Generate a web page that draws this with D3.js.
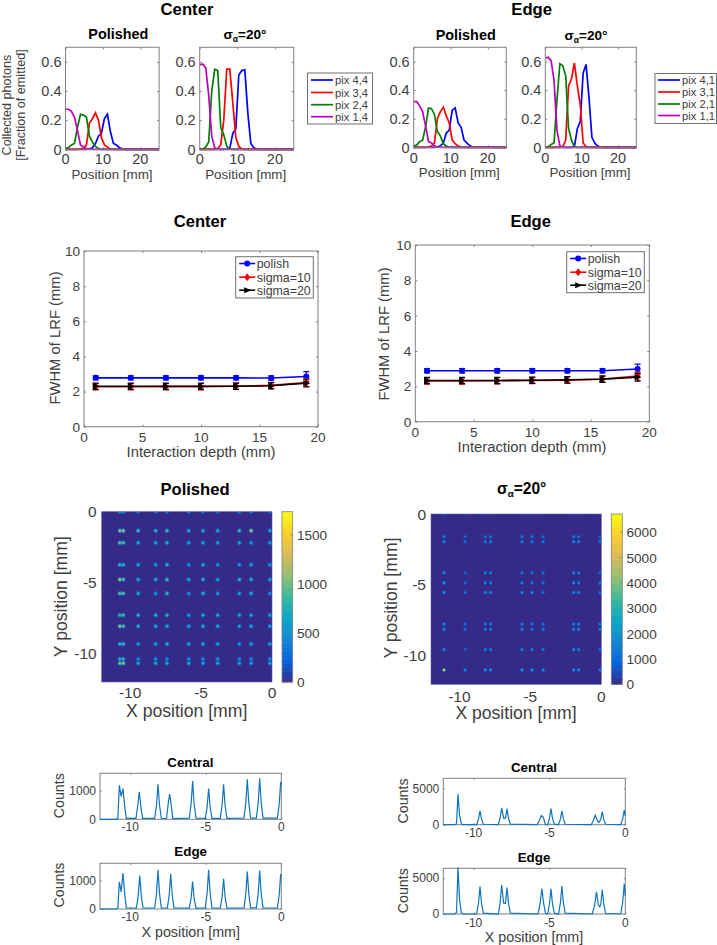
<!DOCTYPE html>
<html>
<head>
<meta charset="utf-8">
<script src="https://cdn.jsdelivr.net/npm/d3@7"></script>
<style>
  html, body { margin: 0; padding: 0; background: #fff; }
  text { font-family: "Liberation Sans", Arial, sans-serif; fill: #404040; }
  .ttl { font-weight: bold; fill: #000; }
</style>
</head>
<body>
<div id="chart"></div>
<script>
// ---- photon collection curves (position in mm, fraction of emitted)
var positions = [0, 0.8, 1.6, 2.4, 3.2, 4, 4.8, 5.6, 6.4, 7.2, 8, 8.8, 9.6, 10.4, 11.2, 12, 12.8, 13.6, 14.4, 15.2, 16, 25];

var centerPolished14 = [.275, .275, .26, .22, .13, .03, .015, .005, 0, 0, 0, 0, 0, 0, 0, 0, 0, 0, 0, 0, 0, 0];
var centerPolished24 = [.005, .012, .03, .04, .15, .24, .235, .22, .09, .05, .02, .005, 0, 0, 0, 0, 0, 0, 0, 0, 0, 0];
var centerPolished34 = [0, 0, 0, 0, 0, .002, .008, .03, .18, .21, .25, .2, .08, .03, .015, .003, 0, 0, 0, 0, 0, 0];
var centerPolished44 = [0, 0, 0, 0, 0, 0, 0, 0, .003, .01, .04, .09, .11, .21, .24, .12, .04, .03, .01, .003, 0, 0];

var centerRough14 = [.58, .585, .56, .37, .09, .01, .002, 0, 0, 0, 0, 0, 0, 0, 0, 0, 0, 0, 0, 0, 0, 0];
var centerRough24 = [0, .002, .015, .05, .4, .55, .54, .15, .1, .02, .002, 0, 0, 0, 0, 0, 0, 0, 0, 0, 0, 0];
var centerRough34 = [0, 0, 0, 0, 0, 0, .005, .03, .2, .55, .55, .32, .08, .02, .003, 0, 0, 0, 0, 0, 0, 0];
var centerRough44 = [0, 0, 0, 0, 0, 0, 0, 0, 0, .002, .005, .11, .14, .51, .54, .545, .25, .04, .01, .002, 0, 0];

var edgePolished11 = [.32, .32, .29, .25, .15, .04, .03, .01, .002, 0, 0, 0, 0, 0, 0, 0, 0, 0, 0, 0, 0, 0];
var edgePolished21 = [.01, .015, .04, .05, .14, .275, .27, .23, .11, .08, .025, .008, .002, 0, 0, 0, 0, 0, 0, 0, 0, 0];
var edgePolished31 = [0, 0, 0, 0, 0, .002, .008, .03, .2, .25, .28, .22, .17, .05, .025, .008, .002, 0, 0, 0, 0, 0];
var edgePolished41 = [0, 0, 0, 0, 0, 0, 0, 0, .002, .01, .03, .1, .12, .26, .275, .17, .14, .05, .03, .01, .002, 0];

var edgeRough11 = [.625, .63, .605, .47, .12, .01, .002, 0, 0, 0, 0, 0, 0, 0, 0, 0, 0, 0, 0, 0, 0, 0];
var edgeRough21 = [0, .003, .02, .03, .33, .585, .57, .5, .13, .05, .003, 0, 0, 0, 0, 0, 0, 0, 0, 0, 0, 0];
var edgeRough31 = [0, 0, 0, 0, 0, 0, .003, .05, .43, .48, .59, .43, .3, .03, .005, 0, 0, 0, 0, 0, 0, 0];
var edgeRough41 = [0, 0, 0, 0, 0, 0, 0, 0, 0, 0, .005, .13, .18, .52, .58, .35, .07, .03, .008, .002, 0, 0];

var pixColors = ['#0000ff', '#ff0000', '#007f00', '#bf00bf'];
var centerPixLabels = ['pix 4,4', 'pix 3,4', 'pix 2,4', 'pix 1,4'];
var edgePixLabels = ['pix 4,1', 'pix 3,1', 'pix 2,1', 'pix 1,1'];

// ---- FWHM vs depth
var depths = [1, 4, 7, 10, 13, 16, 19];
var centerPolish = [2.78, 2.78, 2.78, 2.78, 2.78, 2.77, 2.86];
var centerSigma10 = [2.27, 2.27, 2.28, 2.28, 2.3, 2.35, 2.52];
var centerSigma20 = [2.3, 2.3, 2.3, 2.3, 2.3, 2.33, 2.48];
var edgePolish = [2.88, 2.88, 2.88, 2.88, 2.88, 2.88, 2.98];
var edgeSigma10 = [2.3, 2.3, 2.32, 2.33, 2.35, 2.42, 2.58];
var edgeSigma20 = [2.33, 2.33, 2.33, 2.35, 2.37, 2.4, 2.52];
var polishErr = [.12, .12, .12, .12, .12, .12, .28];
var sigmaErr = [.18, .18, .18, .18, .18, .18, .22];
var fwhmLabels = ['polish', 'sigma=10', 'sigma=20'];
var fwhmColors = ['#0000ff', '#ff0000', '#000000'];

// ---- flood maps, spot positions and peak counts
var polishedCols = [-10.72, -10.48, -9.43, -8.2, -7.4, -5.87, -4.86, -3.83, -2.3, -1.47, -0.15];
var polishedRows = [0, -1.34, -2.19, -3.74, -4.78, -5.76, -7.29, -8.07, -9.32, -10.38, -10.68];
var polishedCounts = [
  [700, 700, 500, 500, 500, 500, 500, 500, 500, 500, 400],
  [1300, 1350, 1000, 950, 1000, 800, 900, 850, 1000, 1400, 800],
  [1200, 1100, 800, 800, 850, 750, 800, 750, 800, 750, 650],
  [1000, 900, 800, 700, 950, 650, 900, 650, 700, 800, 700],
  [1400, 1150, 850, 900, 1000, 800, 900, 800, 900, 900, 800],
  [1150, 1100, 850, 700, 950, 650, 900, 700, 750, 850, 600],
  [1000, 1050, 900, 900, 950, 750, 850, 850, 800, 800, 800],
  [1400, 1100, 900, 850, 850, 800, 900, 850, 800, 800, 750],
  [1000, 1000, 750, 800, 900, 800, 850, 800, 750, 800, 800],
  [900, 950, 600, 600, 600, 600, 550, 650, 550, 600, 650],
  [1250, 1350, 850, 850, 850, 850, 800, 800, 800, 750, 800]
];

var roughCols = [-11.08, -9.6, -8.17, -7.8, -5.59, -4.89, -4.1, -1.95, -1.6, -0.1];
var roughRows = [0, -1.6, -1.95, -4.14, -4.85, -5.53, -7.76, -8.12, -9.55, -10.99];
var roughCounts = [
  [1000, 600, 700, 700, 600, 600, 600, 700, 700, 500],
  [2000, 1400, 1700, 1700, 1700, 1600, 1500, 1800, 1700, 1300],
  [2200, 1300, 1800, 1800, 2000, 1700, 1700, 2100, 2000, 1500],
  [2400, 1300, 1800, 1900, 1900, 1700, 1500, 2100, 2000, 1300],
  [2800, 1500, 2000, 2000, 2100, 1800, 1700, 2300, 2100, 1500],
  [2800, 1800, 2100, 2100, 2300, 2100, 1800, 2200, 2200, 1500],
  [2600, 1500, 1900, 1900, 2000, 1800, 1800, 2300, 2300, 1700],
  [2400, 1500, 1800, 1800, 2000, 1800, 1800, 2200, 2200, 1600],
  [2400, 1400, 2000, 2000, 2200, 1900, 1800, 2200, 2200, 1400],
  [6500, 2200, 2600, 2700, 2800, 2900, 2400, 2700, 2600, 1800]
];
var polishedBarTicks = [0, 500, 1000, 1500];
var roughBarTicks = [0, 1000, 2000, 3000, 4000, 5000, 6000];

// MATLAB parula stops
var parulaStops = ['#352a87', '#0363e1', '#1485d4', '#06a7c6', '#38b99e', '#92bf73', '#d9ba56', '#fcce2e', '#f9fb0e'];

// ---- line profiles through the flood maps [x mm, counts]
var polishedCentral = [[-12,0],[-10.94,0],[-10.82,35],[-10.72,1180],[-10.6,800],[-10.48,1070],[-10.36,430],[-10.26,30],[-9.62,30],[-9.5,480],[-9.4,950],[-9.28,380],[-9.18,30],[-8.38,35],[-8.26,490],[-8.16,1220],[-8.06,490],[-7.94,35],[-7.6,25],[-7.48,560],[-7.39,880],[-7.3,560],[-7.18,25],[-6.09,40],[-5.97,530],[-5.87,1330],[-5.77,530],[-5.65,40],[-5.03,30],[-4.91,430],[-4.81,1070],[-4.71,430],[-4.59,30],[-4.04,35],[-3.92,490],[-3.82,1220],[-3.72,490],[-3.6,35],[-2.47,40],[-2.35,560],[-2.25,1390],[-2.15,560],[-2.03,40],[-1.65,40],[-1.53,570],[-1.43,1430],[-1.33,570],[-1.21,40],[-0.26,40],[-0.14,520],[-0.04,1300],[0,1200]];
var polishedEdge = [[-12,0],[-10.94,0],[-10.82,30],[-10.72,950],[-10.6,600],[-10.48,1260],[-10.36,500],[-10.26,35],[-9.59,35],[-9.47,470],[-9.37,1170],[-9.27,470],[-9.15,35],[-8.38,40],[-8.26,540],[-8.16,1360],[-8.06,540],[-7.94,40],[-7.54,35],[-7.42,490],[-7.32,1230],[-7.22,490],[-7.1,35],[-6.09,30],[-5.97,380],[-5.87,960],[-5.77,380],[-5.65,30],[-5.03,40],[-4.91,550],[-4.81,1370],[-4.71,550],[-4.59,40],[-4.04,30],[-3.92,420],[-3.82,1060],[-3.72,420],[-3.6,30],[-2.47,40],[-2.35,520],[-2.25,1310],[-2.15,520],[-2.03,40],[-1.65,40],[-1.53,540],[-1.43,1350],[-1.33,540],[-1.21,40],[-0.26,35],[-0.14,490],[-0.04,1220],[0,1150]];
var roughCentral = [[-12,0],[-11.25,0],[-11.13,130],[-11.03,4200],[-10.93,1300],[-10.81,130],[-10.7,0],[-9.8,0],[-9.68,760],[-9.58,1900],[-9.48,760],[-9.36,60],[-8.37,0],[-8.25,920],[-8.15,2300],[-8.02,900],[-7.9,880],[-7.8,2200],[-7.7,880],[-7.58,70],[-5.82,0],[-5.68,500],[-5.54,1250],[-5.4,1000],[-5.28,60],[-5.12,0],[-5,880],[-4.9,2200],[-4.8,880],[-4.68,70],[-4.4,0],[-4.28,760],[-4.18,1900],[-4.08,760],[-3.96,60],[-2.25,0],[-2.12,520],[-1.98,1300],[-1.84,520],[-1.74,300],[-1.62,720],[-1.52,1800],[-1.42,720],[-1.3,60],[-0.3,0],[-0.17,800],[-0.07,2000],[0,1200]];
var roughEdge = [[-12,0],[-11.25,0],[-11.13,200],[-11.03,6500],[-10.93,2000],[-10.81,200],[-10.7,0],[-9.8,0],[-9.68,1500],[-9.58,3850],[-9.48,1500],[-9.36,120],[-8.37,0],[-8.25,1600],[-8.15,4050],[-8.02,1500],[-7.9,1480],[-7.8,3700],[-7.7,1480],[-7.58,110],[-5.76,0],[-5.62,1400],[-5.5,3550],[-5.38,1400],[-5.26,110],[-5.12,0],[-5,1400],[-4.9,3500],[-4.8,1400],[-4.68,110],[-4.4,0],[-4.28,1560],[-4.18,3900],[-4.08,1560],[-3.96,120],[-2.18,0],[-2.02,1240],[-1.9,3100],[-1.78,1240],[-1.68,1000],[-1.62,1360],[-1.52,3400],[-1.42,1360],[-1.3,100],[-0.3,0],[-0.17,1680],[-0.07,4200],[0,2500]];

var mapXTicks = [-10, -5, 0];
var mapYTicks = [0, -5, -10];

var axisGrey = '#808080', textGrey = '#404040';

var svg = d3.select('#chart').append('svg')
  .attr('width', 717).attr('height', 945);
var defs = svg.append('defs');
var clipCount = 0;

function label(x, y, str, size, opts) {
  opts = opts || {};
  var t = svg.append('text')
    .attr('x', x).attr('y', y)
    .attr('font-size', size)
    .attr('text-anchor', opts.anchor || 'middle')
    .text(str);
  if (opts.bold) t.attr('class', 'ttl');
  if (opts.rotate) t.attr('transform', 'rotate(-90,' + x + ',' + y + ')');
  return t;
}

// sigma_alpha=20deg title with a real subscript
function sigmaTitle(x, y, size) {
  var t = svg.append('text').attr('class', 'ttl')
    .attr('x', x).attr('y', y)
    .attr('font-size', size).attr('text-anchor', 'middle');
  t.append('tspan').text('σ');
  t.append('tspan').attr('dy', 3).attr('font-size', size * 0.62).text('α');
  t.append('tspan').attr('dy', -3).text('=20°');
}

// box with inward ticks on all four sides
function frame(x0, y0, xs, ys, xTicks, yTicks, opts) {
  var g = svg.append('g');
  var w = xs.range()[1] - xs.range()[0];
  var h = ys.range()[0] - ys.range()[1];
  var tick = opts.tick || 2;
  var mk = function(axis, tx, ty, vals) {
    var a = axis.tickValues(vals).tickSizeInner(tick).tickSizeOuter(0).tickFormat('');
    var s = g.append('g').attr('transform', 'translate(' + tx + ',' + ty + ')').call(a);
    s.select('.domain').remove();
    s.selectAll('line').attr('stroke', axisGrey);
    return s;
  };
  mk(d3.axisTop(xs), x0, y0 + h, xTicks);
  mk(d3.axisBottom(xs), x0, y0, xTicks);
  mk(d3.axisRight(ys), x0, y0, yTicks);
  mk(d3.axisLeft(ys), x0 + w, y0, yTicks);
  xTicks.forEach(function(v) {
    label(x0 + xs(v), opts.xBase, String(v), opts.size);
  });
  yTicks.forEach(function(v) {
    label(x0 - (opts.yGap || 3), y0 + ys(v) + opts.size * 0.36, String(v), opts.size, {anchor: 'end'});
  });
  return g;
}

function border(x0, y0, w, h) {
  svg.append('rect').attr('x', x0).attr('y', y0).attr('width', w).attr('height', h)
    .attr('fill', 'none').attr('stroke', axisGrey).attr('stroke-width', 1);
}

// ---- top row panels
function collectPanel(x0, y0, w, h, series, xBase) {
  var xs = d3.scaleLinear().domain([0, 25]).range([0, w]);
  var ys = d3.scaleLinear().domain([0, 0.7]).range([h, 0]);
  frame(x0, y0, xs, ys, [0, 10, 20], [0, 0.2, 0.4, 0.6], {size: 14.5, xBase: xBase, yGap: 4});
  var line = d3.line().x(function(d, i) { return xs(positions[i]); })
    .y(function(d) { return ys(d); });
  svg.append('g').attr('transform', 'translate(' + x0 + ',' + y0 + ')')
    .selectAll('path').data(series).enter().append('path')
    .attr('d', line)
    .attr('fill', 'none')
    .attr('stroke-width', 1.7)
    .attr('stroke', function(d, i) { return pixColors[i]; });
  border(x0, y0, w, h);
}

function pixLegend(x0, y0, w, h, labels, lineX0, lineX1, textX, rows) {
  svg.append('rect').attr('x', x0).attr('y', y0).attr('width', w).attr('height', h)
    .attr('fill', '#fff').attr('stroke', '#707070').attr('stroke-width', 1);
  labels.forEach(function(l, i) {
    svg.append('line').attr('x1', lineX0).attr('x2', lineX1)
      .attr('y1', rows[i]).attr('y2', rows[i])
      .attr('stroke', pixColors[i]).attr('stroke-width', 1.7);
    label(textX, rows[i] + 4, l, 11.2, {anchor: 'start'});
  });
}

label(187, 15.2, 'Center', 16.7, {bold: true});
label(531.7, 15.2, 'Edge', 16.7, {bold: true});
label(118.3, 38.7, 'Polished', 14.4, {bold: true});
sigmaTitle(245, 38.7, 13.6);
label(465.7, 40, 'Polished', 14.4, {bold: true});
sigmaTitle(586, 40, 13.6);

collectPanel(65.5, 47.3, 93.6, 102, [centerPolished44, centerPolished34, centerPolished24, centerPolished14], 164);
collectPanel(199.7, 47.3, 94, 102, [centerRough44, centerRough34, centerRough24, centerRough14], 164);
collectPanel(413.7, 47.3, 92.6, 100, [edgePolished41, edgePolished31, edgePolished21, edgePolished11], 162.7);
collectPanel(545.3, 47.3, 91, 100, [edgeRough41, edgeRough31, edgeRough21, edgeRough11], 162.7);

pixLegend(307.5, 73, 65, 51, centerPixLabels, 311, 333, 335, [80, 92.5, 104.7, 116.7]);
pixLegend(655, 73.5, 61.5, 50, edgePixLabels, 658, 680, 682, [80, 92, 104, 115.5]);

label(112, 179, 'Position [mm]', 13.4);
label(245.7, 179, 'Position [mm]', 13.4);
label(459.3, 177.3, 'Position [mm]', 13.4);
label(590, 177.3, 'Position [mm]', 13.4);
label(11, 105, 'Collected photons', 12.6, {rotate: true});
label(25, 105, '[Fraction of emitted]', 12.6, {rotate: true});

// ---- FWHM panels
function marker(sel, idx, x, y, r) {
  if (idx === 0) {
    sel.append('circle').attr('cx', x).attr('cy', y).attr('r', r).attr('fill', fwhmColors[0]);
  } else if (idx === 1) {
    sel.append('path').attr('transform', 'translate(' + x + ',' + y + ')')
      .attr('d', 'M0,-' + (r + 1) + 'L' + r + ',0L0,' + (r + 1) + 'L-' + r + ',0Z')
      .attr('fill', fwhmColors[1]);
  } else {
    sel.append('path').attr('transform', 'translate(' + x + ',' + y + ')')
      .attr('d', 'M-' + r + ',-' + r + 'L' + (r + 1) + ',0L-' + r + ',' + r + 'Z')
      .attr('fill', fwhmColors[2]);
  }
}

function fwhmPanel(x0, y0, w, h, series, box, xLabelX, yLabelX, yLabelY, xTickBase, xLabelBase) {
  var xs = d3.scaleLinear().domain([0, 20]).range([0, w]);
  var ys = d3.scaleLinear().domain([0, 10]).range([h, 0]);
  frame(x0, y0, xs, ys, [0, 5, 10, 15, 20], [0, 2, 4, 6, 8, 10], {size: 13.6, xBase: xTickBase, yGap: 4});
  var line = d3.line().x(function(d, i) { return xs(depths[i]); }).y(function(d) { return ys(d); });
  var g = svg.append('g').attr('transform', 'translate(' + x0 + ',' + y0 + ')');
  series.forEach(function(vals, k) {
    var err = k === 0 ? polishErr : sigmaErr;
    vals.forEach(function(v, i) {
      g.append('path')
        .attr('d', 'M' + xs(depths[i]) + ',' + ys(v - err[i]) + 'V' + ys(v + err[i]) +
          'M' + (xs(depths[i]) - 3) + ',' + ys(v - err[i]) + 'h6' +
          'M' + (xs(depths[i]) - 3) + ',' + ys(v + err[i]) + 'h6')
        .attr('stroke', fwhmColors[k]).attr('stroke-width', 1.2).attr('fill', 'none');
    });
    g.append('path').datum(vals).attr('d', line)
      .attr('fill', 'none').attr('stroke', fwhmColors[k]).attr('stroke-width', 1.6);
    vals.forEach(function(v, i) {
      marker(g, k, xs(depths[i]), ys(v), 3);
    });
  });
  border(x0, y0, w, h);

  svg.append('rect').attr('x', box[0]).attr('y', box[1]).attr('width', box[2]).attr('height', box[3])
    .attr('fill', '#fff').attr('stroke', '#707070').attr('stroke-width', 1);
  fwhmLabels.forEach(function(l, i) {
    var ry = box[1] + [6.8, 20.5, 33.5][i];
    svg.append('line').attr('x1', box[0] + 3.5).attr('x2', box[0] + 19.5)
      .attr('y1', ry).attr('y2', ry).attr('stroke', fwhmColors[i]).attr('stroke-width', 1.6);
    marker(svg, i, box[0] + 11.5, ry, 3);
    label(box[0] + 21, ry + 4.5, l, 12.4, {anchor: 'start'});
  });
  label(xLabelX, xLabelBase, 'Interaction depth (mm)', 14.8);
  label(yLabelX, yLabelY, 'FWHM of LRF (mm)', 14.8, {rotate: true});
}

label(200, 226.7, 'Center', 16.6, {bold: true});
label(530.7, 227, 'Edge', 16.6, {bold: true});
fwhmPanel(84, 251, 234, 175.7, [centerPolish, centerSigma10, centerSigma20], [235.7, 256.7, 77.6, 41.3], 201, 59.5, 338, 441.7, 456.7);
fwhmPanel(415.3, 245, 234, 176.7, [edgePolish, edgeSigma10, edgeSigma20], [566.7, 251.7, 77.6, 41], 532, 389, 334, 436.5, 451.7);

// ---- flood maps
function floodMap(x0, y0, side, cols, rows, counts, barMax, barTicks, barX, barW, spotR, xTickBase, yGap) {
  var parula = d3.scaleLinear()
    .domain(parulaStops.map(function(c, i) { return barMax * i / (parulaStops.length - 1); }))
    .range(parulaStops);
  var xs = d3.scaleLinear().domain([-12, 0]).range([0, side]);
  var ys = d3.scaleLinear().domain([-12, 0]).range([side, 0]);
  var clipId = 'clip' + (clipCount++);
  defs.append('clipPath').attr('id', clipId).append('rect').attr('width', side).attr('height', side);

  var g = svg.append('g').attr('transform', 'translate(' + x0 + ',' + y0 + ')');
  g.append('rect').attr('width', side).attr('height', side).attr('fill', parula(0));
  var spots = g.append('g').attr('clip-path', 'url(#' + clipId + ')');
  rows.forEach(function(ry, r) {
    cols.forEach(function(cx, c) {
      var v = counts[r][c];
      var id = 'spot' + clipId + '_' + r + '_' + c;
      var grad = defs.append('radialGradient').attr('id', id);
      // fade out rather than paint the background, so close spots merge
      [[0, 1, 1], [0.35, 0.8, 0.95], [0.65, 0.4, 0.6], [1, 0.2, 0]].forEach(function(s) {
        grad.append('stop').attr('offset', s[0])
          .attr('stop-color', parula(v * s[1])).attr('stop-opacity', s[2]);
      });
      spots.append('circle')
        .attr('cx', xs(cx)).attr('cy', ys(ry)).attr('r', spotR)
        .attr('fill', 'url(#' + id + ')');
    });
  });
  g.append('rect').attr('width', side).attr('height', side).attr('fill', 'none').attr('stroke', '#5f5f9f').attr('stroke-width', 0.6);

  mapXTicks.forEach(function(v) { label(x0 + xs(v), xTickBase, String(v), 15.5); });
  mapYTicks.forEach(function(v) { label(x0 - yGap, y0 + ys(v) + 5.5, String(v), 15.5, {anchor: 'end'}); });

  // colour bar
  var barY = d3.scaleLinear().domain([0, barMax]).range([side, 0]);
  var levels = d3.range(64);
  var bar = svg.append('g').attr('transform', 'translate(' + barX + ',' + y0 + ')');
  bar.selectAll('rect').data(levels).enter().append('rect')
    .attr('x', 0).attr('width', barW)
    .attr('y', function(d) { return barY(barMax * (d + 1) / 64); })
    .attr('height', side / 64 + 0.5)
    .attr('fill', function(d) { return parula(barMax * (d + 0.5) / 64); });
  bar.append('rect').attr('width', barW).attr('height', side).attr('fill', 'none').attr('stroke', axisGrey).attr('stroke-width', 0.8);
  barTicks.forEach(function(v) {
    label(barX + barW + 4.2, y0 + barY(v) + 5, String(v), 13.6, {anchor: 'start'});
    bar.append('line').attr('x1', barW - 2).attr('x2', barW).attr('y1', barY(v)).attr('y2', barY(v)).attr('stroke', axisGrey);
  });
}

label(195, 495, 'Polished', 16.6, {bold: true});
sigmaTitle(521.7, 494, 15.6);
floodMap(101.7, 511.7, 170.3, polishedCols, polishedRows, polishedCounts, 1740, polishedBarTicks, 282, 10.7, 3, 698, 5);
floodMap(431, 514, 170.3, roughCols, roughRows, roughCounts, 6720, roughBarTicks, 611.3, 11, 2.5, 701.7, 5);
label(186.7, 717, 'X position [mm]', 17.6);
label(516, 719, 'X position [mm]', 17.6);
label(67, 596.7, 'Y position [mm]', 17.6, {rotate: true});
label(397, 598, 'Y position [mm]', 17.6, {rotate: true});

// ---- line profiles
function profilePanel(x0, y0, w, h, pts, yMax, yTick, xTickBase, yGap) {
  var xs = d3.scaleLinear().domain([-12, 0]).range([0, w]);
  var ys = d3.scaleLinear().domain([0, yMax]).range([h, 0]);
  frame(x0, y0, xs, ys, mapXTicks, [0, yTick], {size: 12, xBase: xTickBase, yGap: yGap, tick: 1.6});
  var line = d3.line().x(function(d) { return xs(d[0]); }).y(function(d) { return ys(d[1]); });
  border(x0, y0, w, h);
  svg.append('path').datum(pts)
    .attr('transform', 'translate(' + x0 + ',' + y0 + ')')
    .attr('d', line).attr('fill', 'none').attr('stroke', '#0f75bc').attr('stroke-width', 1.2);
}

label(190.3, 766.7, 'Central', 13.4, {bold: true});
label(190.7, 856, 'Edge', 13.4, {bold: true});
label(534, 771.7, 'Central', 13.4, {bold: true});
label(534, 861.7, 'Edge', 13.4, {bold: true});
profilePanel(100, 773.3, 181.3, 46, polishedCentral, 1600, 1000, 831, 4);
profilePanel(100, 863.3, 181.3, 45.7, polishedEdge, 1600, 1000, 920.7, 4);
profilePanel(443.3, 778.3, 182, 46.4, roughCentral, 6370, 5000, 837.3, 4);
profilePanel(443.3, 868.3, 182, 45.7, roughEdge, 6370, 5000, 926.7, 4);
label(64, 795.7, 'Counts', 14.2, {rotate: true});
label(64, 885, 'Counts', 14.2, {rotate: true});
label(407.7, 801, 'Counts', 14.2, {rotate: true});
label(407.7, 890.7, 'Counts', 14.2, {rotate: true});
label(190.7, 936.7, 'X position [mm]', 14.3);
label(534, 941.5, 'X position [mm]', 14.3);
</script>
</body>
</html>
